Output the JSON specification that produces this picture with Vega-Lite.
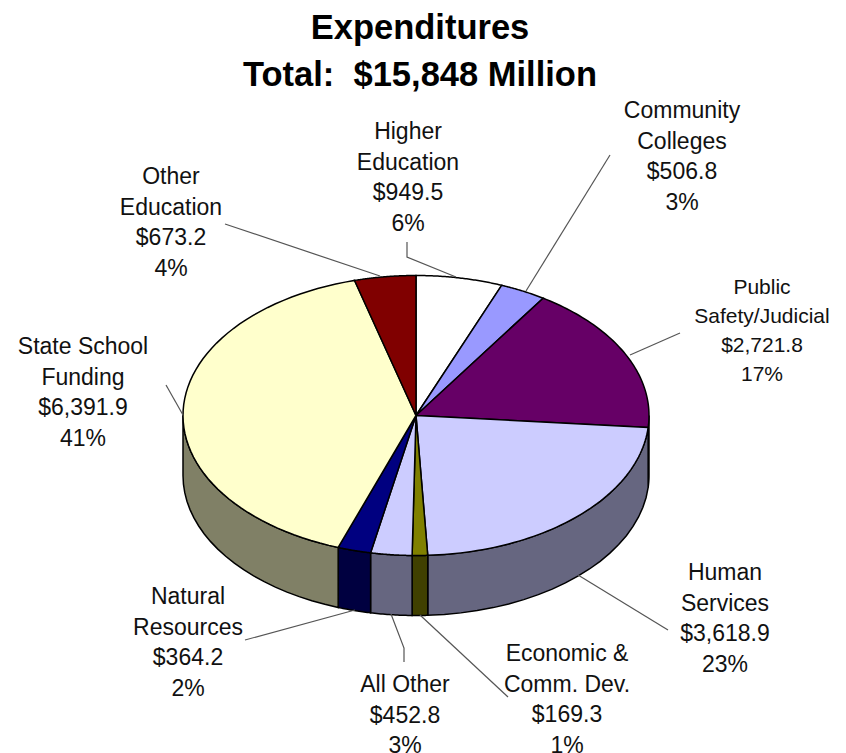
{
"$schema":"https://vega.github.io/schema/vega-lite/v6.json",
"width":846,"height":753,"padding":0,"autosize":"none","background":"white",
"title":{"text":["Expenditures","Total:\u00a0 $15,848 Million"],"fontSize":34.5,"fontWeight":"bold","font":"Liberation Sans","color":"black","anchor":"middle","offset":-120,"dx":-3,"lineHeight":47,"baseline":"alphabetic"},
"datasets":{
"slices":[
{"i":0,"name":"Higher Education","value":949.5},
{"i":1,"name":"Community Colleges","value":506.8},
{"i":2,"name":"Public Safety/Judicial","value":2721.8},
{"i":3,"name":"Human Services","value":3618.9},
{"i":4,"name":"Economic & Comm. Dev.","value":169.3},
{"i":5,"name":"All Other","value":452.8},
{"i":6,"name":"Natural Resources","value":364.2},
{"i":7,"name":"State School Funding","value":6391.9},
{"i":8,"name":"Other Education","value":673.2}
],
"labels":[
{"label":"Higher\nEducation\n$949.5\n6%","lx":408,"ly":132,"group":"a"},
{"label":"Community\nColleges\n$506.8\n3%","lx":682,"ly":111,"group":"a"},
{"label":"Public\nSafety/Judicial\n$2,721.8\n17%","lx":762,"ly":288,"group":"b"},
{"label":"Human\nServices\n$3,618.9\n23%","lx":725,"ly":573,"group":"a"},
{"label":"Economic &\nComm. Dev.\n$169.3\n1%","lx":567,"ly":654,"group":"a"},
{"label":"All Other\n$452.8\n3%","lx":405,"ly":685,"group":"a"},
{"label":"Natural\nResources\n$364.2\n2%","lx":188,"ly":597,"group":"a"},
{"label":"State School\nFunding\n$6,391.9\n41%","lx":83,"ly":347,"group":"a"},
{"label":"Other\nEducation\n$673.2\n4%","lx":171,"ly":177,"group":"a"}
],
"leaders":[
{"id":"he","s":0,"lx":407,"ly":242},{"id":"he","s":1,"lx":407,"ly":257},{"id":"he","s":2,"lx":456,"ly":277},
{"id":"oe","s":0,"lx":225,"ly":224},{"id":"oe","s":1,"lx":380,"ly":276},
{"id":"cc","s":0,"lx":610,"ly":155},{"id":"cc","s":1,"lx":526,"ly":291},
{"id":"ps","s":0,"lx":680,"ly":333},{"id":"ps","s":1,"lx":630,"ly":355},
{"id":"ss","s":0,"lx":166,"ly":385},{"id":"ss","s":1,"lx":183,"ly":415},
{"id":"hs","s":0,"lx":668,"ly":630},{"id":"hs","s":1,"lx":578,"ly":575},
{"id":"ec","s":0,"lx":420,"ly":615},{"id":"ec","s":1,"lx":508,"ly":697},
{"id":"ao","s":0,"lx":391,"ly":614},{"id":"ao","s":1,"lx":404,"ly":648},{"id":"ao","s":2,"lx":404,"ly":662},
{"id":"nr","s":0,"lx":245,"ly":640},{"id":"nr","s":1,"lx":355,"ly":610}
]
},
"data":{"name":"slices"},
"layer":[
{
"transform":[
{"joinaggregate":[{"op":"sum","field":"value","as":"total"}]},
{"window":[{"op":"sum","field":"value","as":"cum"}],"sort":[{"field":"i"}]},
{"calculate":"max((datum.cum-datum.value)/datum.total*2*PI,PI/2)","as":"b0"},
{"calculate":"min(datum.cum/datum.total*2*PI,3*PI/2)","as":"b1"},
{"filter":"datum.b1>datum.b0"},
{"calculate":"sequence(0,43)","as":"steps"},
{"flatten":["steps"],"as":["step"]},
{"calculate":"datum.step<=20?datum.b0+(datum.b1-datum.b0)*datum.step/20:datum.step<=41?datum.b0+(datum.b1-datum.b0)*(41-datum.step)/20:datum.b0","as":"ang"},
{"calculate":"416+233*sin(datum.ang)","as":"px"},
{"calculate":"415.5-140*cos(datum.ang)+(datum.step>=21&&datum.step<=41?60:0)","as":"py"}
],
"mark":{"type":"line","stroke":"black","strokeWidth":1.5,"interpolate":"linear"},
"encoding":{
"x":{"field":"px","type":"quantitative","scale":{"domain":[0,846],"nice":false,"zero":false},"axis":null},
"y":{"field":"py","type":"quantitative","scale":{"domain":[0,753],"reverse":true,"nice":false,"zero":false},"axis":null},
"order":{"field":"step"},
"fill":{"field":"name","type":"nominal","legend":null,"scale":{"domain":["Public Safety/Judicial","Human Services","Economic & Comm. Dev.","All Other","Natural Resources","State School Funding"],"range":["#330033","#666680","#404000","#666680","#000040","#808066"]}}
}
},
{
"transform":[
{"joinaggregate":[{"op":"sum","field":"value","as":"total"}]},
{"window":[{"op":"sum","field":"value","as":"cum"}],"sort":[{"field":"i"}]},
{"calculate":"(datum.cum-datum.value)/datum.total*2*PI","as":"a0"},
{"calculate":"datum.cum/datum.total*2*PI","as":"a1"},
{"calculate":"sequence(0,63)","as":"steps"},
{"flatten":["steps"],"as":["step"]},
{"calculate":"datum.a0+(datum.a1-datum.a0)*(datum.step-1)/60","as":"ang"},
{"calculate":"datum.step==0||datum.step==62?416:416+233*sin(datum.ang)","as":"px"},
{"calculate":"datum.step==0||datum.step==62?415.5:415.5-140*cos(datum.ang)","as":"py"},
{"filter":"datum.step<=62"}
],
"mark":{"type":"line","stroke":"black","strokeWidth":1.5},
"encoding":{
"x":{"field":"px","type":"quantitative","scale":{"domain":[0,846],"nice":false,"zero":false},"axis":null},
"y":{"field":"py","type":"quantitative","scale":{"domain":[0,753],"reverse":true,"nice":false,"zero":false},"axis":null},
"order":{"field":"step"},
"fill":{"field":"name","type":"nominal","legend":null,"scale":{"domain":["Higher Education","Community Colleges","Public Safety/Judicial","Human Services","Economic & Comm. Dev.","All Other","Natural Resources","State School Funding","Other Education"],"range":["#ffffff","#9999ff","#660066","#ccccff","#808000","#ccccff","#000080","#ffffcc","#800000"]}}
}
},
{
"data":{"name":"leaders"},
"mark":{"type":"line","stroke":"#555555","strokeWidth":1.2},
"encoding":{
"x":{"field":"lx","type":"quantitative","scale":{"domain":[0,846],"nice":false,"zero":false},"axis":null},
"y":{"field":"ly","type":"quantitative","scale":{"domain":[0,753],"reverse":true,"nice":false,"zero":false},"axis":null},
"detail":{"field":"id"},
"order":{"field":"s"}
}
},
{
"data":{"name":"labels"},
"transform":[{"filter":"datum.group=='a'"}],
"mark":{"type":"text","font":"Liberation Sans","fontSize":23,"lineHeight":30.6,"lineBreak":"\n","align":"center","baseline":"middle","color":"#111111"},
"encoding":{
"x":{"field":"lx","type":"quantitative","scale":{"domain":[0,846],"nice":false,"zero":false},"axis":null},
"y":{"field":"ly","type":"quantitative","scale":{"domain":[0,753],"reverse":true,"nice":false,"zero":false},"axis":null},
"text":{"field":"label","type":"nominal"}
}
},
{
"data":{"name":"labels"},
"transform":[{"filter":"datum.group=='b'"}],
"mark":{"type":"text","font":"Liberation Sans","fontSize":21,"lineHeight":29,"lineBreak":"\n","align":"center","baseline":"middle","color":"#111111"},
"encoding":{
"x":{"field":"lx","type":"quantitative","scale":{"domain":[0,846],"nice":false,"zero":false},"axis":null},
"y":{"field":"ly","type":"quantitative","scale":{"domain":[0,753],"reverse":true,"nice":false,"zero":false},"axis":null},
"text":{"field":"label","type":"nominal"}
}
}
],
"resolve":{"scale":{"fill":"independent"}},
"config":{"view":{"stroke":null}}
}
